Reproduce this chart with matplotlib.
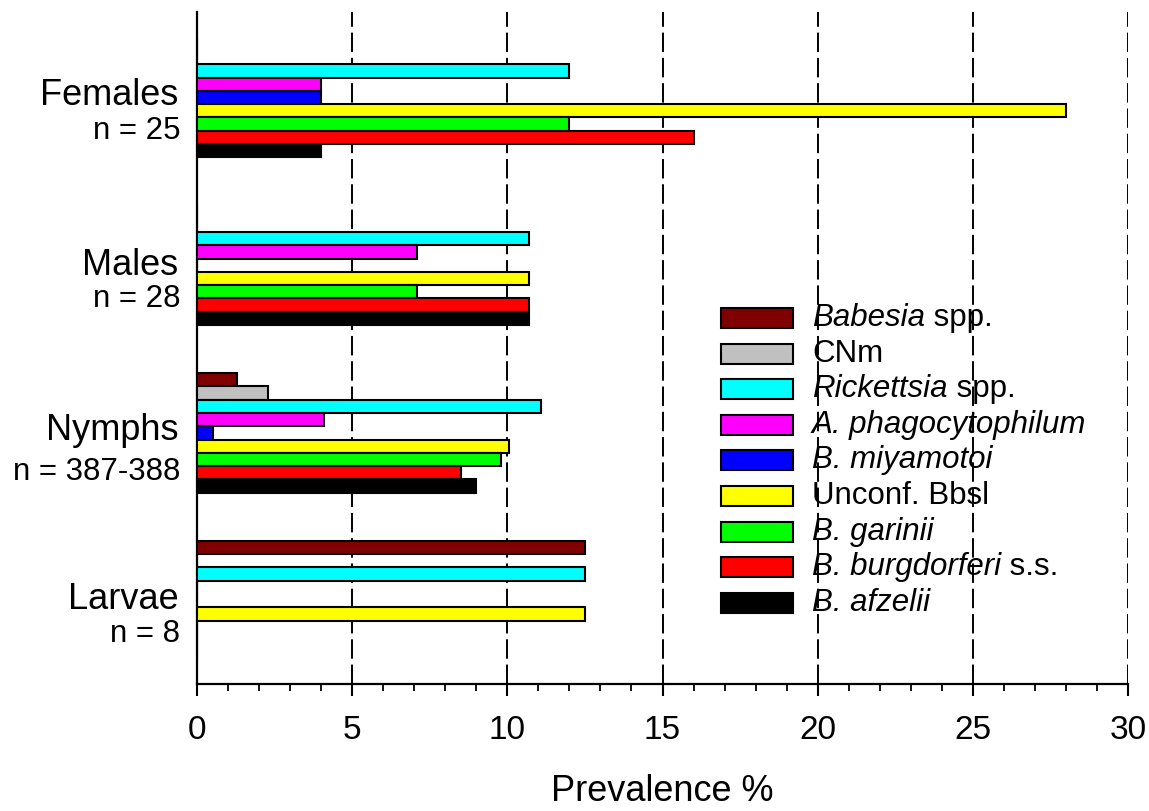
import matplotlib
matplotlib.use("Agg")
import matplotlib.pyplot as plt
import matplotlib.transforms as mtransforms
from matplotlib.patches import Rectangle
import numpy as np

plt.rcParams['font.family'] = ['Liberation Sans', 'DejaVu Sans']

# ---- data ----
stages = ["Larvae", "Nymphs", "Males", "Females"]
stage_n = ["n = 8", "n = 387-388", "n = 28", "n = 25"]
pathogens = ["Babesia spp.", "CNm", "Rickettsia spp.", "A. phagocytophilum",
             "B. miyamotoi", "Unconf. Bbsl", "B. garinii",
             "B. burgdorferi s.s.", "B. afzelii"]
# legend label pieces: (italic part, upright part)
label_italic = ["Babesia", "", "Rickettsia", "A. phagocytophilum", "B. miyamotoi",
                "", "B. garinii", "B. burgdorferi", "B. afzelii"]
label_upright = [" spp.", "CNm", " spp.", "", "", "Unconf. Bbsl", "", " s.s.", ""]
colors = ["#800000", "#c0c0c0", "#00ffff", "#ff00ff", "#0000ff",
          "#ffff00", "#00ff00", "#ff0000", "#000000"]

# prevalence % per pathogen, in order of stages (Larvae, Nymphs, Males, Females)
babesia     = [12.5, 1.3, 0.0, 0.0]
cnm         = [0.0, 2.3, 0.0, 0.0]
rickettsia  = [12.5, 11.1, 10.7, 12.0]
aphago      = [0.0, 4.1, 7.1, 4.0]
miyamotoi   = [0.0, 0.5, 0.0, 4.0]
unconf      = [12.5, 10.05, 10.7, 28.0]
garinii     = [0.0, 9.8, 7.1, 12.0]
burgdorferi = [0.0, 8.5, 10.7, 16.0]
afzelii     = [0.0, 9.0, 10.7, 4.0]
series = [babesia, cnm, rickettsia, aphago, miyamotoi, unconf, garinii, burgdorferi, afzelii]

# ---- figure ----
W, H = 1149, 811
fig = plt.figure(figsize=(W / 100, H / 100), dpi=100)
ax = fig.add_axes([197 / W, 1 - 684 / H, (1128 - 197) / W, (684 - 12) / H])

y = np.arange(len(stages))
slot = 0.079
for i, (vals, col, lab) in enumerate(zip(series, colors, pathogens)):
    off = (4 - i) * slot
    ax.barh(y + off, vals, height=slot, color=col, edgecolor='black',
            linewidth=1.5, label=lab, zorder=3)

ax.set_xlim(0, 30)
ax.set_ylim(-0.497, 3.509)

for gx in range(5, 31, 5):
    ax.axvline(gx, color='black', lw=1.4, linestyle=(0, (10, 3)), zorder=1)

for s in ['top', 'right']:
    ax.spines[s].set_visible(False)
for s in ['left', 'bottom']:
    ax.spines[s].set_linewidth(1.6)

ax.set_xticks(range(0, 31, 5))
ax.set_xticks(range(0, 31, 1), minor=True)
ax.tick_params(axis='x', which='major', direction='out', length=8.5, width=1.5,
               labelsize=24, pad=14)
ax.tick_params(axis='x', which='minor', direction='out', length=5, width=1.3)
ax.set_yticks([])
ax.set_xlabel("Prevalence %", fontsize=26, labelpad=20)

# stage labels
trans = mtransforms.blended_transform_factory(ax.transAxes, ax.transData)
title_off = [1, 2, 0, 2]
n_off = [-33, -39, -34, -34]
for yi, name, n, to, no in zip(y, stages, stage_n, title_off, n_off):
    t1 = mtransforms.offset_copy(trans, fig=fig, x=0, y=to, units='dots')
    ax.text(-0.020, yi, name, transform=t1, ha='right', va='center', fontsize=26)
    t2 = mtransforms.offset_copy(trans, fig=fig, x=0, y=no, units='dots')
    ax.text(-0.018, yi, n, transform=t2, ha='right', va='center', fontsize=22.5)

# legend (drawn manually to allow mixed italic / upright text)
leg_fs = 22.5
row0, row_step = 318, 35.6
for i, (col, it, up) in enumerate(zip(colors, label_italic, label_upright)):
    yc = row0 + i * row_step
    fig.patches.append(Rectangle((721 / W, 1 - (yc + 10) / H), 72 / W, 20 / H,
                                 transform=fig.transFigure, facecolor=col,
                                 edgecolor='black', linewidth=1.5))
    prev = None
    pos = (812 / W, 1 - yc / H)
    if it:
        prev = fig.text(pos[0], pos[1], it, fontsize=leg_fs, style='italic',
                        ha='left', va='center')
    if up:
        if prev is None:
            fig.text(pos[0], pos[1], up, fontsize=leg_fs, ha='left', va='center')
        else:
            ax.annotate(up, xy=(1, 0), xycoords=prev, fontsize=leg_fs,
                        ha='left', va='bottom', annotation_clip=False)

fig.savefig("out.png", dpi=100)
